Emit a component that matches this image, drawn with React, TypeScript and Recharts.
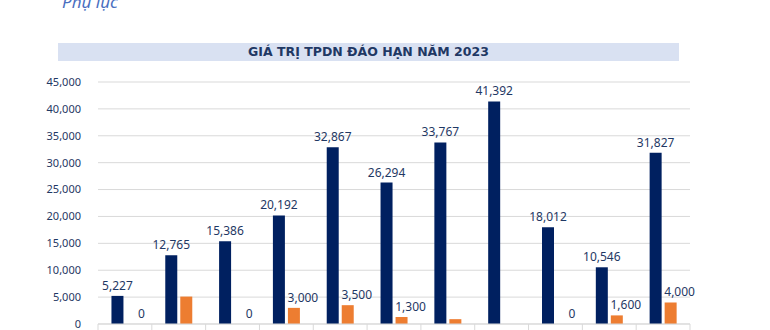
import React from "react";
import { BarChart, Bar, XAxis, YAxis, CartesianGrid, LabelList } from "recharts";

const categories = ["T1", "T2", "T3", "T4", "T5", "T6", "T7", "T8", "T9", "T10", "T11"];
const darkValues = [5227, 12765, 15386, 20192, 32867, 26294, 33767, 41392, 18012, 10546, 31827];
const orangeValues: (number | null)[] = [0, 5100, 0, 3000, 3500, 1300, 900, null, 0, 1600, 4000];
const orangeLabels: (string | null)[] = ["0", null, "0", "3,000", "3,500", "1,300", null, null, "0", "1,600", "4,000"];
const yTicks = [0, 5000, 10000, 15000, 20000, 25000, 30000, 35000, 40000, 45000];

const data = categories.map((c, i) => ({
  name: c,
  dark: darkValues[i],
  orange: orangeValues[i],
  orangeLabel: orangeLabels[i],
  zeroLabel: orangeValues[i] === 0 ? orangeLabels[i] : null,
}));

const FONT = "'Noto Sans', sans-serif";
const TEXT = "#1F3864";
const BAR_GAP = 3;
const LABEL_DX = 9;
const fmt = (v: number) => v.toLocaleString("en-US");

const BoundaryTick = (props: any) => {
  const { x, y, payload, index, visibleTicksCount } = props;
  const off = payload.offset || 0;
  const last = index === (visibleTicksCount ?? categories.length) - 1;
  return (
    <g>
      <line x1={x - off} x2={x - off} y1={y} y2={y + 6} stroke="#D9D9D9" />
      {last && <line x1={x + off} x2={x + off} y1={y} y2={y + 6} stroke="#D9D9D9" />}
    </g>
  );
};

const OrangeLabel = (props: any) => {
  const { x, y, width, value } = props;
  if (value === null || value === undefined || value === "" || value === "0") return null;
  return (
    <text x={x + width / 2 + LABEL_DX} y={y - 6} textAnchor="middle" fill={TEXT} fontSize={12} fontFamily={FONT}>
      {value}
    </text>
  );
};

// zero-valued orange bars have no rectangle; place their label beside the dark bar at the baseline
const ZeroLabel = (props: any) => {
  const { x, y, width, height, value } = props;
  if (value === null || value === undefined || value === "") return null;
  return (
    <text
      x={x + width + BAR_GAP + width / 2 + LABEL_DX}
      y={y + height - 6}
      textAnchor="middle"
      fill={TEXT}
      fontSize={12}
      fontFamily={FONT}
    >
      {value}
    </text>
  );
};

export default function App() {
  return (
    <div style={{ position: "fixed", left: 0, top: 0, width: 770, height: 330, background: "#fff", overflow: "hidden" }}>
      <div
        style={{
          position: "absolute",
          left: 62,
          top: -7,
          fontFamily: FONT,
          fontStyle: "italic",
          fontSize: 17,
          lineHeight: "17px",
          color: "#4A6FBF",
          whiteSpace: "nowrap",
        }}
      >
        Phụ lục
      </div>
      <div
        style={{
          position: "absolute",
          left: 58,
          top: 43,
          width: 621,
          height: 18,
          background: "#D9E1F2",
        }}
      />
      <div
        style={{
          position: "absolute",
          left: 58,
          top: 43,
          width: 621,
          height: 18,
          lineHeight: "18px",
          textAlign: "center",
          fontFamily: "'DejaVu Sans', sans-serif",
          fontWeight: "bold",
          fontSize: 12.5,
          color: "#1F3864",
          whiteSpace: "nowrap",
        }}
      >
        GIÁ TRỊ TPDN ĐÁO HẠN NĂM 2023
      </div>
      <div style={{ position: "absolute", left: 0, top: 0 }}>
        <BarChart
          width={770}
          height={350}
          data={data}
          margin={{ top: 82, right: 80, bottom: 6, left: 38 }}
          barCategoryGap="25%"
          barGap={BAR_GAP}
        >
          <CartesianGrid vertical={false} stroke="#D9D9D9" />
          <XAxis
            dataKey="name"
            axisLine={{ stroke: "#D9D9D9" }}
            tickLine={false}
            tickSize={0}
            tickMargin={0}
            height={20}
            tick={<BoundaryTick />}
            interval={0}
          />
          <YAxis
            width={60}
            domain={[0, 45000]}
            ticks={yTicks}
            axisLine={false}
            tickLine={false}
            tickMargin={11}
            tickFormatter={fmt}
            tick={{ fill: TEXT, fontSize: 11, fontFamily: FONT }}
          />
          <Bar dataKey="dark" fill="#002060" isAnimationActive={false}>
            <LabelList
              dataKey="dark"
              position="top"
              offset={6}
              formatter={(v: any) => fmt(Number(v))}
              style={{ fill: TEXT, fontSize: 12, fontFamily: FONT }}
            />
            <LabelList dataKey="zeroLabel" content={<ZeroLabel />} />
          </Bar>
          <Bar dataKey="orange" fill="#ED7D31" isAnimationActive={false}>
            <LabelList dataKey="orangeLabel" content={<OrangeLabel />} />
          </Bar>
        </BarChart>
      </div>
    </div>
  );
}
